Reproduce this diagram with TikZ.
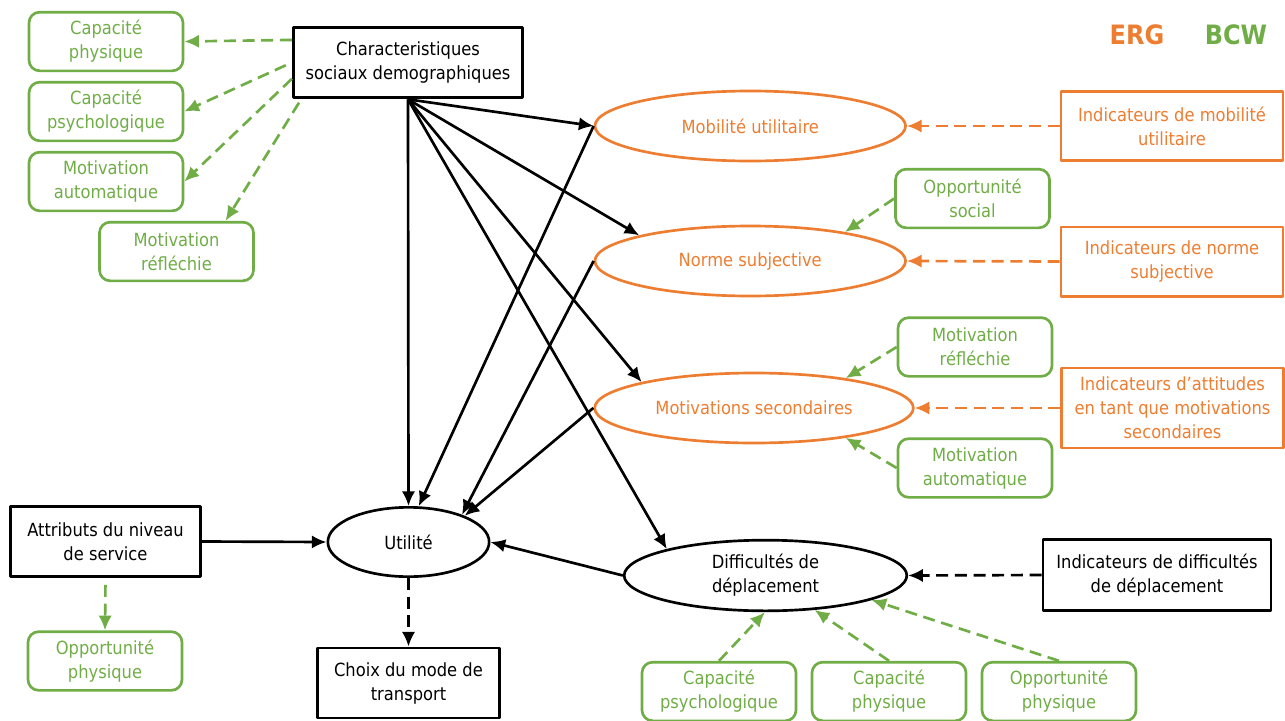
\documentclass[tikz,border=0pt]{standalone}
\usepackage{fontspec}
\setmainfont{DejaVu Sans Condensed}
\usetikzlibrary{arrows.meta,shapes.geometric}
\definecolor{ergorange}{RGB}{237,125,49}
\definecolor{bcwgreen}{RGB}{112,173,71}

\begin{document}
\begin{tikzpicture}[line join=round,x=0.75pt,y=-0.75pt,font=\fontsize{13.6pt}{18pt}\selectfont,
	bcwbox/.style={draw=bcwgreen,text=bcwgreen,line width=2pt,rounded corners=8pt,minimum width=115.5pt,minimum height=44pt,align=center,inner sep=0pt},
	ergbox/.style={draw=ergorange,text=ergorange,line width=2pt,minimum width=166.5pt,minimum height=52pt,align=center,inner sep=0pt},
	blkbox/.style={draw=black,line width=2.2pt,align=center,inner sep=0pt},
	ergell/.style={ellipse,draw=ergorange,text=ergorange,line width=2pt,minimum height=52.5pt,inner sep=0pt},
	blkell/.style={ellipse,draw=black,line width=2pt,align=center,inner sep=0pt},
	titre/.style={font=\fontsize{20pt}{24pt}\selectfont\bfseries},
	blkarr/.style={line width=2pt,-{Latex[length=11pt,width=10pt]}},
	blkdash/.style={blkarr,dash pattern=on 9pt off 5pt},
	ergdash/.style={blkdash,draw=ergorange,-{Latex[length=11pt,width=10pt,fill=ergorange]}},
	bcwdash/.style={blkdash,draw=bcwgreen,-{Latex[length=11pt,width=10pt,fill=bcwgreen]}}]
	\useasboundingbox (0,0) rectangle (1285,721);
	\node [bcwbox] (capphys) at (106,41.5) {Capacité\\physique};
	\node [bcwbox] (cappsy) at (106,111.5) {Capacité\\psychologique};
	\node [bcwbox] (motauto) at (106,181.5) {Motivation\\automatique};
	\node [bcwbox] (motrefl) at (176.5,251.5) {Motivation\\réfléchie};
	\node [blkbox,minimum width=172pt,minimum height=53pt] (socdem) at (408,62.5) {Characteristiques\\sociaux demographiques};
	\node [titre,text=ergorange] (erg) at (1137,35) {ERG};
	\node [titre,text=bcwgreen] (bcw) at (1236,35) {BCW};
	\node [ergell,minimum width=233pt] (mobil) at (750.25,126) {Mobilité utilitaire};
	\node [ergbox] (imobil) at (1172,126) {Indicateurs de mobilité\\utilitaire};
	\node [bcwbox] (oppsoc) at (972.5,198.5) {Opportunité\\social};
	\node [ergell,minimum width=233pt] (norme) at (750.25,261) {Norme subjective};
	\node [ergbox] (inorme) at (1172,261.5) {Indicateurs de norme\\subjective};
	\node [bcwbox] (motrefl2) at (975,347) {Motivation\\réfléchie};
	\node [ergell,minimum width=239pt] (motsec) at (754,408) {Motivations secondaires};
	\node [ergbox,minimum height=60pt] (iattit) at (1172.5,408) {Indicateurs d’attitudes\\en tant que motivations\\secondaires};
	\node [bcwbox] (motauto2) at (975,468) {Motivation\\automatique};
	\node [blkell,minimum width=121pt,minimum height=52pt] (util) at (408.5,542) {Utilité};
	\node [blkbox,minimum width=142.5pt,minimum height=53pt] (attrib) at (105.5,541.5) {Attributs du niveau\\de service};
	\node [bcwbox] (oppphys) at (105,661) {Opportunité\\physique};
	\node [blkbox,minimum width=137pt,minimum height=52.5pt] (choix) at (408.5,683) {Choix du mode de\\transport};
	\node [blkell,minimum width=212pt,minimum height=53pt] (diff) at (765.5,575.5) {Difficultés de\\déplacement};
	\node [blkbox,minimum width=171pt,minimum height=53.5pt] (idiff) at (1157,575) {Indicateurs de difficultés\\de déplacement};
	\node [bcwbox] (cappsy2) at (719,691.5) {Capacité\\psychologique};
	\node [bcwbox] (capphys2) at (889,691.5) {Capacité\\physique};
	\node [bcwbox] (oppphys2) at (1059,691.5) {Opportunité\\physique};
	\draw [bcwdash] (socdem.169.5) -- (capphys.east);
	\draw [bcwdash,shorten <=5pt] (socdem.west) -- (cappsy.east);
	\draw [bcwdash] (socdem.188) -- (motauto.east);
	\draw [bcwdash,shorten <=3pt] (socdem.199.3) -- (motrefl.32.3);
	\draw [blkarr] (socdem.south) -- (util.north);
	\draw [blkarr] (socdem.south) -- (mobil.west);
	\draw [blkarr] (socdem.south) -- (norme.167.6);
	\draw [blkarr] (socdem.south) -- (motsec.167.6);
	\draw [blkarr] (socdem.south) -- (diff.165.8);
	\draw [blkarr] (mobil.west) -- (util.74);
	\draw [blkarr] (norme.west) -- (util.27);
	\draw [blkarr] (motsec.west) -- (util.25);
	\draw [blkarr] (diff.west) -- (util.east);
	\draw [blkarr] (attrib.east) -- (util.west);
	\draw [blkdash] (util.south) -- (choix.north);
	\draw [bcwdash,shorten <=5pt] (attrib.south) -- (oppphys.north);
	\draw [ergdash] (imobil.west) -- (mobil.east);
	\draw [ergdash] (inorme.west) -- (norme.east);
	\draw [ergdash] (iattit.west) -- (motsec.east);
	\draw [blkdash] (idiff.west) -- (diff.east);
	\draw [bcwdash] (oppsoc.west) -- (norme.17);
	\draw [bcwdash] (motrefl2.west) -- (motsec.18);
	\draw [bcwdash] (motauto2.west) -- (motsec.-18);
	\draw [bcwdash] (cappsy2.north) -- (diff.-91);
	\draw [bcwdash] (capphys2.north) -- (diff.-35);
	\draw [bcwdash] (oppphys2.north) -- (diff.-13);
\end{tikzpicture}
\end{document}
